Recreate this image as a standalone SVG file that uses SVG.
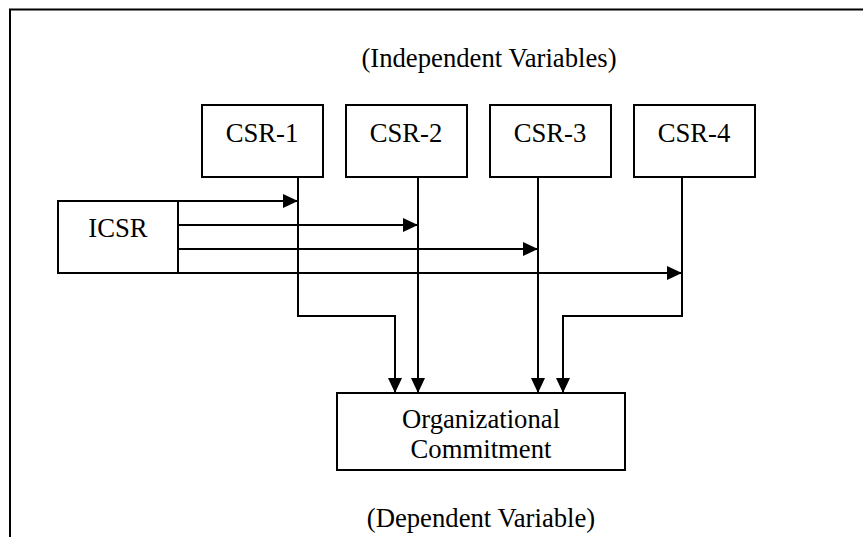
<svg xmlns="http://www.w3.org/2000/svg" width="863" height="537" viewBox="0 0 863 537">
<style>
.box{fill:#fff;stroke:#000;stroke-width:2}
.ln{fill:none;stroke:#000;stroke-width:2}
.t{font-family:"Liberation Serif","Times New Roman",serif;font-size:26.7px;fill:#000;text-anchor:middle}
</style>
<defs>
<marker id="ah" viewBox="0 0 15 14" refX="15" refY="7" markerWidth="15" markerHeight="14" markerUnits="userSpaceOnUse" orient="auto">
<path d="M0,0 L15,7 L0,14 Z" fill="#000"/>
</marker>
</defs>
<rect width="863" height="537" fill="#fff"/>
<g id="frame">
<path class="ln" d="M10,537 L10,9.5 L863,9.5"/>
</g>
<text class="t" x="489" y="67">(Independent Variables)</text>
<text class="t" x="481" y="527">(Dependent Variable)</text>
<g id="connectors">
<path class="ln" d="M178,201 L298,201" marker-end="url(#ah)"/>
<path class="ln" d="M178,225 L418,225" marker-end="url(#ah)"/>
<path class="ln" d="M178,249 L538,249" marker-end="url(#ah)"/>
<path class="ln" d="M178,273 L682,273" marker-end="url(#ah)"/>
<path class="ln" d="M298,177 L298,316 L395,316 L395,393" marker-end="url(#ah)"/>
<path class="ln" d="M418,177 L418,393" marker-end="url(#ah)"/>
<path class="ln" d="M538,177 L538,393" marker-end="url(#ah)"/>
<path class="ln" d="M682,177 L682,316 L563,316 L563,393" marker-end="url(#ah)"/>
</g>
<g id="csr1"><rect class="box" x="202" y="105" width="121" height="72"/><text class="t" x="262" y="142">CSR-1</text></g>
<g id="csr2"><rect class="box" x="346" y="105" width="121" height="72"/><text class="t" x="406" y="142">CSR-2</text></g>
<g id="csr3"><rect class="box" x="490" y="105" width="121" height="72"/><text class="t" x="550" y="142">CSR-3</text></g>
<g id="csr4"><rect class="box" x="634" y="105" width="121" height="72"/><text class="t" x="694" y="142">CSR-4</text></g>
<g id="icsr"><rect class="box" x="58" y="201" width="120" height="72"/><text class="t" x="118" y="237">ICSR</text></g>
<g id="org"><rect class="box" x="337" y="393" width="288" height="77"/><text class="t" x="481" y="428">Organizational</text><text class="t" x="481" y="458">Commitment</text></g>
</svg>
